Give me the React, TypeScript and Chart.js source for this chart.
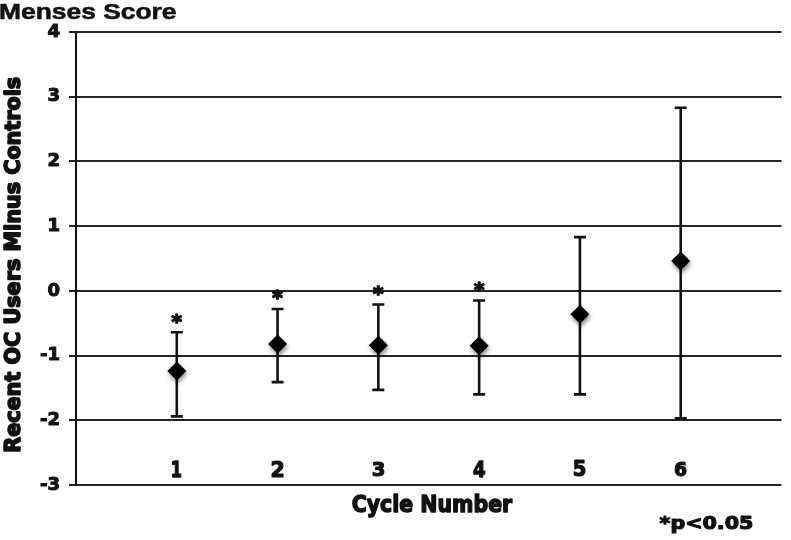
import React, { useEffect, useRef } from "react";
import { Chart, registerables } from "chart.js";

Chart.register(...registerables);

const cycles = [1, 2, 3, 4, 5, 6];
const cycleLabels = ["1", "2", "3", "4", "5", "6"];
const meanValues = [-1.24, -0.82, -0.84, -0.85, -0.36, 0.46];
const upperValues = [-0.64, -0.28, -0.21, -0.15, 0.83, 2.83];
const lowerValues = [-1.94, -1.41, -1.53, -1.60, -1.60, -1.97];
const significant = [true, true, true, true, false, false];
const yTicks = [-3, -2, -1, 0, 1, 2, 3, 4];
const titleText = "Menses Score";
const yTitleText = "Recent OC Users Minus Controls";
const xTitleText = "Cycle Number";
const noteText = "*p<0.05";
const starText = "*";

const HEAVY = "'DejaVu Sans'";

// draw text scaled so that its ink box fills (left, top, width, height)
function drawFit(ctx: CanvasRenderingContext2D, text: string, font: string, left: number, top: number, width: number, height: number, thick = 0) {
  ctx.save();
  ctx.font = "bold 40px " + font;
  ctx.textAlign = "left";
  ctx.textBaseline = "alphabetic";
  const m = ctx.measureText(text);
  const w = m.actualBoundingBoxLeft + m.actualBoundingBoxRight;
  const h = m.actualBoundingBoxAscent + m.actualBoundingBoxDescent;
  const sx = (width - thick) / w;
  const sy = (height - thick) / h;
  ctx.translate(left + thick / 2, top + thick / 2);
  ctx.scale(sx, sy);
  ctx.fillText(text, m.actualBoundingBoxLeft, m.actualBoundingBoxAscent);
  if (thick > 0) {
    ctx.lineJoin = "round";
    ctx.strokeStyle = ctx.fillStyle as string;
    ctx.lineWidth = thick / ((sx + sy) / 2);
    ctx.strokeText(text, m.actualBoundingBoxLeft, m.actualBoundingBoxAscent);
  }
  ctx.restore();
}

const overlay = {
  id: "overlay",
  beforeDatasetsDraw(chart: any) {
    const ctx = chart.ctx;
    const xs = chart.scales.x;
    const ys = chart.scales.y;
    ctx.save();
    ctx.strokeStyle = "#111";
    ctx.lineWidth = 2.6;
    cycles.forEach((c, i) => {
      const x = xs.getPixelForValue(c);
      const yu = ys.getPixelForValue(upperValues[i]);
      const yl = ys.getPixelForValue(lowerValues[i]);
      ctx.beginPath();
      ctx.moveTo(x, yu);
      ctx.lineTo(x, yl);
      ctx.moveTo(x - 6, yu);
      ctx.lineTo(x + 6, yu);
      ctx.moveTo(x - 6, yl);
      ctx.lineTo(x + 6, yl);
      ctx.stroke();
    });
    ctx.restore();
    ctx.save();
    ctx.shadowColor = "rgba(0,0,0,0.45)";
    ctx.shadowBlur = 4;
    ctx.shadowOffsetX = 1;
    ctx.shadowOffsetY = 3;
  },
  afterDatasetsDraw(chart: any) {
    chart.ctx.restore();
  },
  afterDraw(chart: any) {
    const ctx = chart.ctx;
    const xs = chart.scales.x;
    const ys = chart.scales.y;
    ctx.save();
    ctx.fillStyle = "#111";
    // asterisks above significant bars
    cycles.forEach((c, i) => {
      if (!significant[i]) return;
      const x = xs.getPixelForValue(c);
      const yu = ys.getPixelForValue(upperValues[i]);
      drawFit(ctx, starText, HEAVY, x - 6, yu - 20, 12, 11, 1.5);
    });
    // category labels
    const yLab = ys.getPixelForValue(-2.75);
    cycles.forEach((c, i) => {
      const x = xs.getPixelForValue(c);
      const w = cycleLabels[i] === "1" ? 10 : 12.5;
      drawFit(ctx, cycleLabels[i], HEAVY, x - w / 2, yLab - 8.5, w, 17, 1.2);
    });
    // x title
    drawFit(ctx, xTitleText, HEAVY, 352, 493, 161, 25, 1.4);
    // note
    drawFit(ctx, noteText, HEAVY, 659, 515, 94, 19, 1.2);
    // main title
    drawFit(ctx, titleText, "'Liberation Sans'", 0, 2.5, 176, 16.5, 0.6);
    // y title (rotated)
    ctx.save();
    ctx.translate(2.5, 452);
    ctx.rotate(-Math.PI / 2);
    drawFit(ctx, yTitleText, HEAVY, 0, 0, 375, 18.5, 1.6);
    ctx.restore();
    ctx.restore();
  },
};

export default function App() {
  const ref = useRef<HTMLCanvasElement | null>(null);
  useEffect(() => {
    if (!ref.current) return;
    const chart = new Chart(ref.current, {
      type: "scatter",
      data: {
        datasets: [
          {
            data: cycles.map((c, i) => ({ x: c, y: meanValues[i] })),
            pointStyle: "rectRot",
            pointRadius: 9.5,
            backgroundColor: "#000",
            borderColor: "#000",
            borderWidth: 0,
          },
        ],
      },
      options: {
        animation: false,
        responsive: false,
        layout: { padding: { top: 32, bottom: 55, right: 1, left: 0 } },
        plugins: { legend: { display: false }, tooltip: { enabled: false } },
        scales: {
          x: { type: "linear", min: 0, max: 7, display: false },
          y: {
            min: -3,
            max: 4,
            afterBuildTicks: (scale: any) => {
              scale.ticks = yTicks.map((v) => ({ value: v }));
            },
            afterFit: (scale: any) => {
              scale.width = 76;
            },
            ticks: {
              color: "#111",
              font: { family: "'DejaVu Sans'", weight: "bold", size: 18 },
              padding: 9,
              textStrokeColor: "#111",
              textStrokeWidth: 1,
            },
            grid: { color: "#262626", lineWidth: 2, tickLength: 7, drawTicks: true },
            border: { display: true, color: "#111", width: 2 },
          },
        },
      },
      plugins: [overlay],
    });
    return () => chart.destroy();
  }, []);
  return (
    <div style={{ position: "fixed", left: 0, top: 0, width: 791, height: 540, background: "#fff" }}>
      <canvas ref={ref} width={791} height={540} />
    </div>
  );
}
